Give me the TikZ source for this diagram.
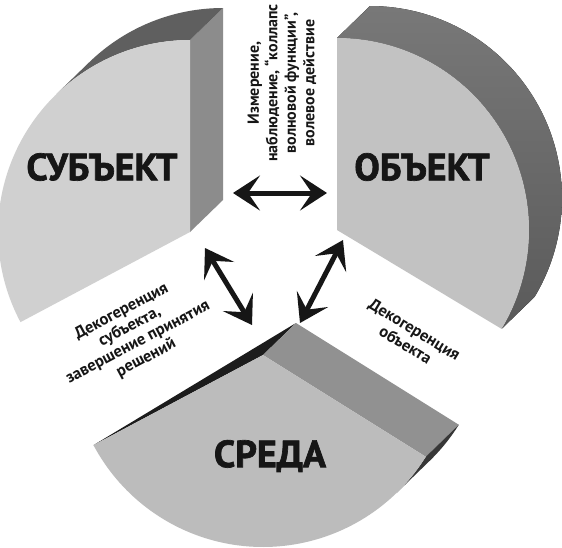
\documentclass[tikz,border=0pt]{standalone}
\usepackage{fontspec}
\setmainfont{PT Sans}
\newfontfamily\heavyfont{PT Sans}[BoldFeatures={FakeBold=1.8}]
\usetikzlibrary{arrows.meta}
\definecolor{faceL}{RGB}{208,208,208}
\definecolor{faceR}{RGB}{194,194,194}
\definecolor{faceB}{RGB}{188,188,188}
\definecolor{sideL}{RGB}{140,140,140}
\definecolor{sideB}{RGB}{145,145,145}
\definecolor{bandTop}{RGB}{95,95,95}
\definecolor{bandRa}{RGB}{120,120,120}
\definecolor{bandRb}{RGB}{90,90,90}
\definecolor{bandDark}{RGB}{28,28,28}
\definecolor{sliver}{RGB}{55,55,55}
\definecolor{ink}{RGB}{22,22,22}
\newcommand\mylblfont{\fontsize{16.5}{17.5}\selectfont\bfseries}
\newcommand\mytopfont{\fontsize{16}{18.5}\selectfont\bfseries}
\newcommand\mybigfont{\heavyfont\bfseries\fontsize{38}{40}\selectfont}
\begin{document}
\begin{tikzpicture}[x=1pt,y=-1pt,
  lbl/.style={font=\mylblfont, align=center, inner sep=0pt, text=ink},
  big/.style={font=\mybigfont, inner sep=0pt, text=ink},
  dbl/.style={line width=5pt, draw=ink,
    {Stealth[length=27pt,width=35pt,inset=12pt]}-{Stealth[length=27pt,width=35pt,inset=12pt]}}]
\useasboundingbox (0,0) rectangle (562,547);
\fill[white] (0,0) rectangle (562,547);
\clip (0,0) rectangle (562,547);
% ---------- left slice (subject) ----------
\fill[sideL] (190,40) -- (223,8) -- (223,200) -- (190,232) -- cycle;
\fill[bandTop] plot[domain=90:134,samples=40,variable=\t] ({190+192*cos(\t)},{232-192*sin(\t)})
   -- plot[domain=134:90,samples=40,variable=\t] ({223+192*cos(\t)},{200-192*sin(\t)}) -- cycle;
\fill[faceL] (190,232) -- plot[domain=90:208,samples=80,variable=\t] ({190+192*cos(\t)},{232-192*sin(\t)}) -- cycle;
% ---------- right slice (object) ----------
\fill[top color=bandRa,bottom color=bandRb] plot[domain=-31:90,samples=80,variable=\t] ({337+192*cos(\t)},{230-192*sin(\t)})
   -- plot[domain=90:-31,samples=80,variable=\t] ({370+192*cos(\t)},{198-192*sin(\t)}) -- cycle;
\fill[faceR] (337,230) -- plot[domain=-31:90,samples=80,variable=\t] ({337+192*cos(\t)},{230-192*sin(\t)}) -- cycle;
% ---------- bottom slice (environment) ----------
\fill[bandDark] (263,355) -- ({263+192*cos(208)},{355-192*sin(208)}) -- (296,323) -- cycle;
\fill[sideB] (263,355) -- ({263+192*cos(328)},{355-192*sin(328)}) -- ({296+192*cos(328)},{323-192*sin(328)}) -- (296,323) -- cycle;
\fill[sliver] plot[domain=314:328,samples=20,variable=\t] ({263+192*cos(\t)},{355-192*sin(\t)})
   -- plot[domain=328:314,samples=20,variable=\t] ({296+192*cos(\t)},{323-192*sin(\t)}) -- cycle;
\fill[faceB] (263,355) -- plot[domain=208:328,samples=80,variable=\t] ({263+192*cos(\t)},{355-192*sin(\t)}) -- cycle;
% ---------- titles ----------
\node[big] (subj) at (102,167) {СУБЪЕКТ};
\node[big] (obj) at (422,167) {ОБЪЕКТ};
\node[big] (env) at (270,456) {СРЕДА};
% ---------- labels ----------
\node[lbl, font=\mytopfont, rotate=90] (ltop) at (282,83) {Измерение,\\наблюдение, “коллапс\\волновой функции”,\\волевое действие};
\node[lbl, rotate=28] (lleft) at (134,335) {Декогеренция\\субъекта,\\завершение принятия\\решений};
\node[lbl, rotate=-31] (lright) at (410,337) {Декогеренция\\объекта};
% ---------- arrows ----------
\coordinate (h1) at (233,193);
\coordinate (h2) at (327,193);
\coordinate (l1) at (205,248);
\coordinate (l2) at (252,325);
\coordinate (r1) at (343,240);
\coordinate (r2) at (300,323);
\draw[dbl] (h1) -- (h2);
\draw[dbl] (l1) -- (l2);
\draw[dbl] (r1) -- (r2);
\end{tikzpicture}
\end{document}
